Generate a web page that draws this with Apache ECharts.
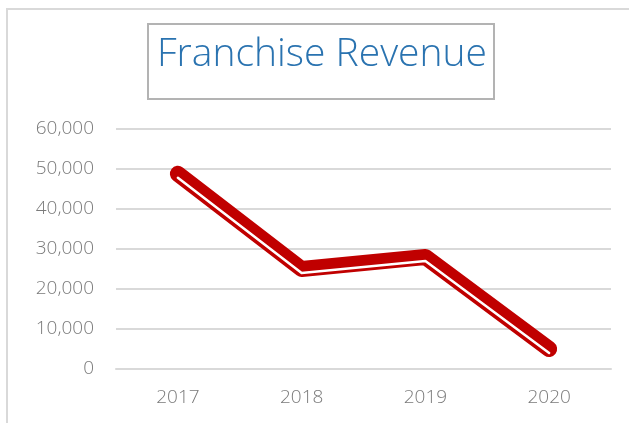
<!DOCTYPE html>
<html>
<head>
<meta charset="utf-8">
<script src="https://cdn.jsdelivr.net/npm/echarts@6/dist/echarts.min.js"></script>
<style>
  html, body { margin: 0; padding: 0; background: #fff; }
  #chart { width: 629px; height: 423px; }
</style>
</head>
<body>
<div id="chart"></div>
<script>
// chart data
const years = ['2017', '2018', '2019', '2020']
const revenue = [48800, 25000, 28000, 5000]
const yTicks = { min: 0, max: 60000, step: 10000 }

const labelFont = '"Open Sans", Lato, sans-serif'
const red = '#c00000'
const gridColor = '#d9d9d9'

// second grid is the same plot shifted down a few px, used for the white stripe of the double line
const mainGrid = { left: 116, right: 18, top: 129, bottom: 54 }
const stripeShift = 4

const chart = echarts.init(document.getElementById('chart'), null, { renderer: 'canvas' })

const makeX = (idx, show) => ({
  type: 'category',
  gridIndex: idx,
  data: years,
  show: show,
  boundaryGap: true,
  axisLine: { show: true, lineStyle: { color: gridColor, width: 2 } },
  axisTick: { show: false },
  axisLabel: {
    color: '#7a7a7a',
    fontFamily: labelFont,
    fontWeight: 300,
    fontSize: 19,
    margin: 19,
  },
})

const makeY = (idx, show) => ({
  type: 'value',
  gridIndex: idx,
  show: show,
  min: yTicks.min,
  max: yTicks.max,
  interval: yTicks.step,
  axisLine: { show: false },
  axisTick: { show: false },
  splitLine: { show: show, lineStyle: { color: gridColor, width: 2 } },
  axisLabel: {
    color: '#7a7a7a',
    fontFamily: labelFont,
    fontWeight: 300,
    fontSize: 19,
    margin: 22,
    formatter: (v) => v.toLocaleString('en-US'),
  },
})

const option = {
  animation: false,
  backgroundColor: '#fff',
  grid: [
    { ...mainGrid, outerBoundsMode: 'none' },
    { ...mainGrid, top: mainGrid.top + stripeShift, bottom: mainGrid.bottom - stripeShift, outerBoundsMode: 'none' },
  ],
  xAxis: [makeX(0, true), makeX(1, false)],
  yAxis: [makeY(0, true), makeY(1, false)],
  graphic: [
    {
      type: 'rect',
      z: -10,
      shape: { x: 7, y: 9, width: 700, height: 500 },
      style: { fill: 'none', stroke: gridColor, lineWidth: 2 },
    },
    {
      type: 'rect',
      shape: { x: 148, y: 24, width: 346, height: 75 },
      style: { fill: '#fff', stroke: '#b3b3b3', lineWidth: 2 },
    },
    {
      type: 'text',
      x: 322,
      y: 55,
      style: {
        text: 'Franchise Revenue',
        fill: '#2a73b0',
        font: '300 39px "Open Sans"',
        textAlign: 'center',
        textVerticalAlign: 'middle',
      },
    },
  ],
  series: [
    {
      name: 'Revenue',
      type: 'line',
      xAxisIndex: 0,
      yAxisIndex: 0,
      data: revenue,
      symbol: 'none',
      showSymbol: false,
      z: 3,
      lineStyle: { color: red, width: 16, cap: 'round', join: 'round' },
    },
    {
      name: 'Revenue stripe',
      type: 'line',
      xAxisIndex: 1,
      yAxisIndex: 1,
      data: revenue,
      symbol: 'none',
      showSymbol: false,
      z: 4,
      lineStyle: { color: '#fff', width: 2.5, cap: 'round', join: 'round' },
    },
  ],
}

chart.setOption(option)
</script>
</body>
</html>
